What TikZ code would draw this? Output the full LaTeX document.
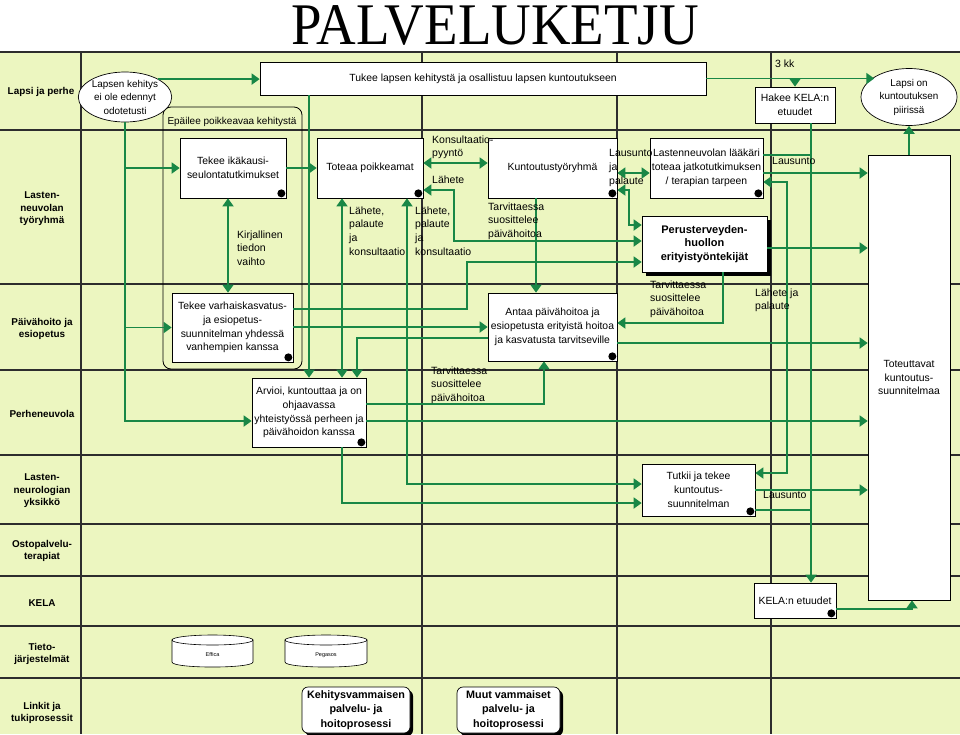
\documentclass[tikz,border=0pt]{standalone}
\usepackage{fontspec}
\setmainfont{Liberation Sans}
\newfontfamily\titlefont{Liberation Serif}
\usetikzlibrary{arrows.meta,shadows,shapes.geometric}
\definecolor{lanebg}{RGB}{236,246,192}
\definecolor{conn}{RGB}{25,135,70}
\definecolor{gridc}{RGB}{45,45,45}
\begin{document}
\begin{tikzpicture}[x=1pt,y=-1pt,
  box/.style={draw=black, line width=0.7pt, fill=white, align=center, inner sep=1pt, font=\fontsize{10.4}{13.8}\selectfont},
  ell/.style={ellipse, draw=black, line width=0.7pt, fill=white, align=center, inner sep=0pt, font=\fontsize{9.9}{13.5}\selectfont},
  lane/.style={align=center, inner sep=0pt, font=\bfseries\fontsize{9.9}{12.5}\selectfont},
  lbl/.style={align=left, anchor=north west, inner sep=0pt, font=\fontsize{10.5}{13.6}\selectfont},
  cn/.style={draw=conn, line width=1.8pt},
  ar/.style={cn, -{Triangle[length=8pt,width=11pt]}},
  ar2/.style={cn, {Triangle[length=8pt,width=11pt]}-{Triangle[length=8pt,width=11pt]}},
  gl/.style={draw=gridc, line width=1.2pt},
  shad/.style={drop shadow={shadow xshift=4pt, shadow yshift=-4pt, fill=black, opacity=1}},
  bdot/.style={fill=black}
]
\useasboundingbox (0,0) rectangle (960,734);
% background and grid
\fill[white] (0,0) rectangle (960,734);
\fill[lanebg] (0,52) rectangle (960,734);
\foreach \yy in {52,130,284,370,455,524,576,626,678} {\draw[gl] (0,\yy) -- (960,\yy);}
\foreach \xx in {81,422,617,771} {\draw[gl] (\xx,52) -- (\xx,734);}
% title
\node[font=\titlefont\fontsize{59}{59}\selectfont, xscale=0.93, anchor=base, inner sep=0pt] (title) at (495,44) {PALVELUKETJU};
% lane labels
\node[lane] (l1) at (41,92) {Lapsi ja perhe};
\node[lane] (l2) at (42,209) {Lasten-\\neuvolan\\työryhmä};
\node[lane] (l3) at (42,329) {Päivähoito ja\\esiopetus};
\node[lane] (l4) at (42,414) {Perheneuvola};
\node[lane] (l5) at (42,491) {Lasten-\\neurologian\\yksikkö};
\node[lane] (l6) at (42,551) {Ostopalvelu-\\terapiat};
\node[lane] (l7) at (42,603) {KELA};
\node[lane] (l8) at (42,654) {Tieto-\\järjestelmät};
\node[lane] (l9) at (42,713) {Linkit ja\\tukiprosessit};
% group box
\draw[black, line width=0.8pt, rounded corners=8pt] (163,107) rectangle (302,369);
\node[font=\fontsize{10}{11}\selectfont, inner sep=0pt] (epailee) at (232,122) {Epäilee poikkeavaa kehitystä};
% nodes
\node[ell, minimum width=78pt, minimum height=50pt] (e1) at (125,97) {Lapsen kehitys\\ei ole edennyt\\odotetusti};
\node[box, minimum width=446pt, minimum height=33pt] (tukee) at (483,78.5) {Tukee lapsen kehitystä ja osallistuu lapsen kuntoutukseen};
\node[box, minimum width=80pt, minimum height=36pt] (hakee) at (795,105) {Hakee KELA:n\\etuudet};
\node[ell, minimum width=96pt, minimum height=57pt] (e2) at (909,97) {Lapsi on\\kuntoutuksen\\piirissä};
\node[box, minimum width=106pt, minimum height=60pt] (ika) at (233,168) {Tekee ikäkausi-\\seulontatutkimukset};
\node[box, minimum width=106pt, minimum height=60pt] (toteaa) at (370,168) {Toteaa poikkeamat};
\node[box, minimum width=129pt, minimum height=60pt] (kt) at (552.5,168) {Kuntoutustyöryhmä};
\node[box, minimum width=113pt, minimum height=60pt] (lasten) at (706.5,168) {Lastenneuvolan lääkäri\\toteaa jatkotutkimuksen\\/ terapian tarpeen};
\node[box, shad, minimum width=125pt, minimum height=56pt, font=\bfseries\fontsize{11}{13.6}\selectfont] (pe) at (704.5,244) {Perusterveyden-\\huollon\\erityistyöntekijät};
\node[box, minimum width=121pt, minimum height=69pt] (vk) at (232.5,327.5) {Tekee varhaiskasvatus-\\ja esiopetus-\\suunnitelman yhdessä\\vanhempien kanssa};
\node[box, minimum width=129pt, minimum height=68pt] (antaa) at (552.5,327) {Antaa päivähoitoa ja\\esiopetusta erityistä hoitoa\\ja kasvatusta tarvitseville};
\node[box, minimum width=114pt, minimum height=69pt] (arvioi) at (309,412.5) {Arvioi, kuntouttaa ja on\\ohjaavassa\\yhteistyössä perheen ja\\päivähoidon kanssa};
\node[box, minimum width=113pt, minimum height=52pt] (tutkii) at (698.5,490) {Tutkii ja tekee\\kuntoutus-\\suunnitelman};
\node[box, minimum width=82pt, minimum height=35pt] (kelaet) at (795,600.5) {KELA:n etuudet};
\node[box, minimum width=82pt, minimum height=445pt] (tot) at (909,377.5) {Toteuttavat\\kuntoutus-\\suunnitelmaa};
% cylinders
\filldraw[fill=white, draw=black, line width=0.6pt] (172,640) -- (172,662) .. controls (172,668.7) and (253,668.7) .. (253,662) -- (253,640) -- cycle;
\filldraw[fill=white, draw=black, line width=0.6pt] (212.5,640) ellipse [x radius=40.5pt, y radius=5pt];
\node[font=\fontsize{5.5}{6}\selectfont, inner sep=0pt] (effica) at (212.5,655) {Effica};
\filldraw[fill=white, draw=black, line width=0.6pt] (285,640) -- (285,662) .. controls (285,668.7) and (367,668.7) .. (367,662) -- (367,640) -- cycle;
\filldraw[fill=white, draw=black, line width=0.6pt] (326,640) ellipse [x radius=41pt, y radius=5pt];
\node[font=\fontsize{5.5}{6}\selectfont, inner sep=0pt] (pegasos) at (326,655) {Pegasos};
% link boxes
\node[box, rounded corners=6pt, drop shadow={shadow xshift=3pt, shadow yshift=-3pt, fill=black, opacity=1}, minimum width=108pt, minimum height=46pt, font=\bfseries\fontsize{10.8}{14.5}\selectfont] (kv) at (356,710) {Kehitysvammaisen\\palvelu- ja\\hoitoprosessi};
\node[box, rounded corners=6pt, drop shadow={shadow xshift=3pt, shadow yshift=-3pt, fill=black, opacity=1}, minimum width=103pt, minimum height=46pt, font=\bfseries\fontsize{10.8}{14.5}\selectfont] (muut) at (508.5,710) {Muut vammaiset\\palvelu- ja\\hoitoprosessi};
% connectors
\draw[ar] (e1.south) |- (arvioi.west |- 0,421);
\draw[ar] (e1.south |- ika.west) -- (ika.west);
\draw[ar] (e1.south |- vk.west) -- (vk.west);
\draw[ar] (e1.north east) -- (e1.north east -| tukee.west);
\draw[ar] (tukee.east) -- (tukee.east -| e2.150);
\draw[ar] (tukee.east -| hakee.north) -- (hakee.north);
\draw[ar] (hakee.south -| 811,0) -- (kelaet.north -| 811,0);
\coordinate (jA) at (811,155);
\coordinate (jB) at (811,510);
\draw[cn] (lasten.east |- jA) -- (jA);
\draw[cn] (tutkii.east |- jB) -- (jB);
\draw[ar2] (lasten.east |- 0,182) -- (787,182) -- (787,473) -- (tutkii.east |- 0,473);
\draw[ar] (tot.north) -- (e2.south);
\draw[ar] (kelaet.east |- 0,609) -| (tot.south -| 912,0);
\draw[ar] (tukee.south -| arvioi.north) -- (arvioi.north);
\draw[ar] (ika.east) -- (toteaa.west);
\draw[ar2] (ika.south -| 228,0) -- (vk.north -| 228,0);
\draw[ar2] (toteaa.south -| 342,0) -- (arvioi.north -| 342,0);
\draw[ar] (arvioi.south -| 342,0) |- (tutkii.west |- 0,503);
\draw[ar2] (toteaa.south -| 407,0) |- (tutkii.west |- 0,484);
\draw[ar2] (toteaa.east |- 0,163) -- (kt.west |- 0,163);
\draw[ar2] (toteaa.east |- 0,190) -- (454,190) -- (454,241) -- (pe.west |- 0,241);
\draw[ar] (vk.east |- 0,309) -- (467,309) -- (467,262) -- (pe.west |- 0,262);
\draw[ar] (vk.east |- 0,327) -- (antaa.west |- 0,327);
\draw[ar] (antaa.west |- 0,338) -| (arvioi.north -| 357,0);
\draw[ar] (arvioi.east |- 0,404) -| (antaa.south -| 544,0);
\draw[ar] (arvioi.east |- 0,421) -- (tot.west |- 0,421);
\draw[ar] (antaa.east |- 0,343) -- (tot.west |- 0,343);
\draw[ar] (pe.south -| 723,0) |- (antaa.east |- 0,323);
\draw[ar] (pe.east |- 0,248) -- (tot.west |- 0,248);
\draw[ar] (kt.south -| 536,0) -- (antaa.north -| 536,0);
\draw[ar2] (kt.east |- 0,173) -- (lasten.west |- 0,173);
\draw[ar2] (kt.east |- 0,190) -- (629,190) -- (629,225) -- (pe.west |- 0,225);
\draw[ar] (lasten.east |- 0,173) -- (tot.west |- 0,173);
\draw[ar] (tutkii.east |- 0,490) -- (tot.west |- 0,490);
% dots
\foreach \n in {ika,toteaa,kt,lasten,vk,antaa,arvioi,tutkii,kelaet} {\fill[bdot] (\n.south east) ++(-5pt,5pt) circle (4pt);}
% labels
\node[lbl, anchor=west] (kk) at (775,64) {3 kk};
\node[lbl] (kirj) at (237,230.5) {Kirjallinen\\tiedon\\vaihto};
\node[lbl] (lp1) at (349,206.5) {Lähete,\\palaute\\ja\\konsultaatio};
\node[lbl] (lp2) at (415,206.5) {Lähete,\\palaute\\ja\\konsultaatio};
\node[lbl] (konsu) at (432,135.5) {Konsultaatio-\\pyyntö};
\node[lbl] (lahete) at (432,175.5) {Lähete};
\node[lbl] (tarv1) at (488,202.5) {Tarvittaessa\\suosittelee\\päivähoitoa};
\node[lbl] (lausja) at (609,149.5) {Lausunto\\ja\\palaute};
\node[lbl] (laus1) at (772,157.5) {Lausunto};
\node[lbl] (tarv2) at (650,280.5) {Tarvittaessa\\suosittelee\\päivähoitoa};
\node[lbl] (lahja) at (755,288.5) {Lähete ja\\palaute};
\node[lbl] (tarv3) at (431,366.5) {Tarvittaessa\\suosittelee\\päivähoitoa};
\node[lbl] (laus2) at (763,491.5) {Lausunto};
\end{tikzpicture}
\end{document}
